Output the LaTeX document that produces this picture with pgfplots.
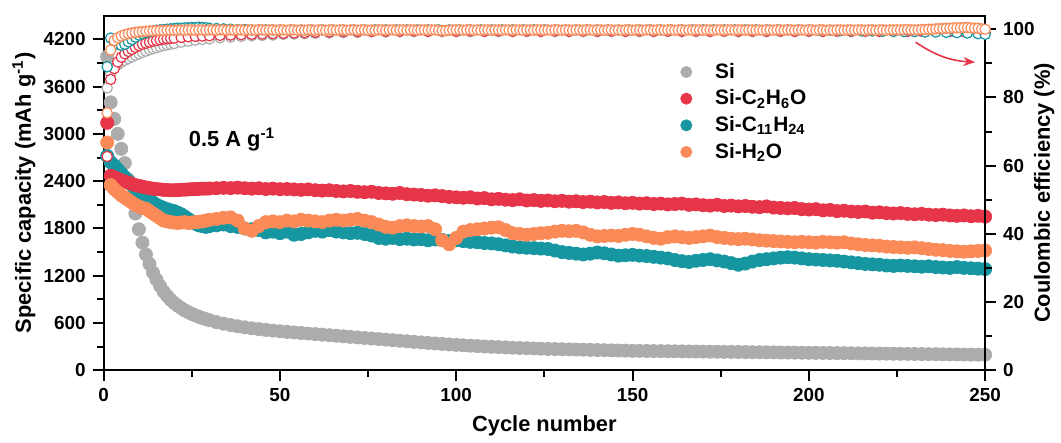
\documentclass[border=0pt]{standalone}
\usepackage{fontspec}
\setmainfont{Liberation Sans}
\usepackage{pgfplots}
\pgfplotsset{compat=1.18}
\usetikzlibrary{arrows.meta}

\definecolor{cSi}{RGB}{172,172,172}
\definecolor{cEt}{RGB}{230,52,72}
\definecolor{cUn}{RGB}{22,150,160}
\definecolor{cWa}{RGB}{250,138,88}

\pgfplotsset{
  common/.style={
    width=443.5pt, height=178.5pt, scale only axis,
    xmin=0, xmax=250,
    tick align=outside,
    major tick length=5.5pt, minor tick length=3.25pt,
    every tick/.style={black, line width=1pt},
    axis line style={line width=1pt},
    tick label style={font=\bfseries\fontsize{9.5}{11}\selectfont},
    /pgf/number format/assume math mode=true,
    /pgf/number format/1000 sep={},
    scaled ticks=false,
  },
  cap/.style={only marks, mark=*, mark size=3.3pt, mark options={draw=#1, fill=#1}, forget plot},
  ce/.style={only marks, mark=*, mark size=2.6pt, mark options={draw=#1, fill=white, line width=0.6pt}},
}

\begin{document}
\begin{tikzpicture}
\begin{axis}[common, name=ax,
  ymin=0, ymax=4500,
  ytick={0,600,...,4200}, minor y tick num=1,
  xtick={0,50,...,250}, minor x tick num=1,
  xtick pos=bottom, ytick pos=left,
  xlabel={Cycle number},
  ylabel={Specific capacity (mAh g\textsuperscript{-1})},
  every axis x label/.style={at={(axis description cs:0.5,-0.155)}, anchor=center, font=\bfseries\fontsize{11}{13}\selectfont},
  every axis y label/.style={at={(axis description cs:-0.0905,0.5)}, rotate=90, anchor=center, font=\bfseries\fontsize{11}{13}\selectfont},
  legend style={at={(axis description cs:0.647,0.89)}, anchor=north west, draw=none, fill=none,
    font=\bfseries\fontsize{10.5}{12}\selectfont, row sep=0.3pt},
  legend cell align=left,
  legend image code/.code={\draw[mark repeat=2,mark phase=2,#1] plot coordinates {(-8pt,0pt) (0pt,0pt) (8pt,0pt)}; \path[draw=none,fill=none] (-3pt,-0.1pt) rectangle (12.5pt,0.1pt);},
]
% Si
\addplot[cap=cSi] coordinates {
(1,3980)(2,3400)(3,3190)(4,3000)(5,2810)(6,2630)(7,2420)(8,2200)(9,1990)(10,1790)
(11,1620)(12,1470)(13,1350)(14,1240)(15,1150)(16,1070)(17,1000)(18,945)(19,895)(20,855)
(21,820)(22,790)(23,762)(24,738)(25,716)(26,697)(27,680)(28,664)(29,650)(30,636)
(32,612)(34,592)(36,575)(38,560)(40,546)(42,534)(44,523)(46,513)(48,504)(50,496)
(52,488)(54,481)(56,474)(58,467)(60,460)(62,453)(64,446)(66,439)(68,432)(70,425)
(72,418)(74,411)(76,404)(78,397)(80,390)(82,383)(84,376)(86,369)(88,362)(90,355)
(92,348)(94,341)(96,335)(98,329)(100,323)(102,318)(104,313)(106,308)(108,303)(110,299)
(112,295)(114,291)(116,287)(118,284)(120,281)(122,278)(124,275)(126,272)(128,270)(130,268)
(132,266)(134,264)(136,262)(138,260)(140,258)(142,256)(144,254)(146,252)(148,250)(150,248)
(152,247)(154,246)(156,245)(158,244)(160,243)(162,242)(164,241)(166,240)(168,239)(170,238)
(172,237)(174,236)(176,235)(178,234)(180,233)(182,232)(184,231)(186,230)(188,229)(190,228)
(192,227)(194,226)(196,225)(198,224)(200,223)(202,222)(204,221)(206,220)(208,219)(210,218)
(212,217)(214,216)(216,215)(218,214)(220,213)(222,212)(224,211)(226,210)(228,209)(230,208)
(232,207)(234,206)(236,205)(238,204)(240,203)(242,202)(244,201)(246,200)(248,199)(250,198)
};
% Si-C11H24
\addplot[cap=cUn] coordinates {
(1,2720)(2,2640)(3,2600)(4,2550)(5,2500)(6,2450)(7,2400)(8,2350)(9,2310)(10,2270)
(11,2230)(12,2190)(13,2160)(14,2130)(15,2100)(16,2080)(17,2060)(18,2045)(19,2030)(20,2020)
(21,2000)(22,1980)(23,1950)(24,1920)(25,1890)(26,1860)(27,1840)(28,1830)(29,1820)(30,1830)
(32,1840)(34,1850)(36,1830)(38,1820)(40,1800)(42,1790)(44,1780)(46,1750)(48,1760)(50,1740)
(52,1760)(54,1720)(56,1730)(58,1750)(60,1770)(62,1760)(64,1780)(66,1760)(68,1750)(70,1740)
(72,1745)(74,1730)(76,1710)(78,1680)(80,1670)(82,1680)(84,1665)(86,1670)(88,1660)(90,1665)
(92,1650)(94,1660)(96,1655)(98,1640)(100,1650)(102,1640)(104,1630)(106,1625)(108,1615)(110,1610)
(112,1600)(114,1585)(116,1570)(118,1560)(120,1555)(122,1550)(124,1545)(126,1540)(128,1520)(130,1500)
(132,1490)(134,1480)(136,1470)(138,1480)(140,1495)(142,1485)(144,1470)(146,1455)(148,1460)(150,1465)
(152,1455)(154,1450)(156,1440)(158,1430)(160,1420)(162,1400)(164,1385)(166,1375)(168,1390)(170,1400)
(172,1410)(174,1395)(176,1380)(178,1360)(180,1340)(182,1355)(184,1380)(186,1400)(188,1410)(190,1420)
(192,1430)(194,1435)(196,1430)(198,1420)(200,1410)(202,1405)(204,1400)(206,1395)(208,1390)(210,1380)
(212,1370)(214,1360)(216,1350)(218,1345)(220,1340)(222,1330)(224,1325)(226,1330)(228,1325)(230,1320)
(232,1315)(234,1320)(236,1310)(238,1305)(240,1300)(242,1310)(244,1300)(246,1295)(248,1290)(250,1285)
};
% Si-C2H6O
\addplot[cap=cEt] coordinates {
(1,3140)(2,2470)(3,2450)(4,2430)(5,2410)(6,2395)(7,2380)(8,2365)(9,2350)(10,2340)
(11,2330)(12,2320)(13,2312)(14,2305)(15,2300)(16,2295)(17,2290)(18,2288)(19,2285)(20,2285)
(21,2287)(22,2290)(23,2292)(24,2295)(25,2298)(26,2300)(27,2302)(28,2305)(29,2305)(30,2307)
(32,2310)(34,2315)(36,2312)(38,2318)(40,2310)(42,2305)(44,2310)(46,2300)(48,2305)(50,2298)
(52,2300)(54,2295)(56,2290)(58,2295)(60,2285)(62,2280)(64,2285)(66,2275)(68,2270)(70,2275)
(72,2265)(74,2260)(76,2265)(78,2250)(80,2245)(82,2240)(84,2250)(86,2235)(88,2230)(90,2225)
(92,2215)(94,2220)(96,2210)(98,2200)(100,2195)(102,2190)(104,2195)(106,2180)(108,2185)(110,2170)
(112,2175)(114,2165)(116,2160)(118,2170)(120,2155)(122,2160)(124,2150)(126,2155)(128,2145)(130,2150)
(132,2140)(134,2145)(136,2135)(138,2140)(140,2130)(142,2135)(144,2125)(146,2130)(148,2120)(150,2125)
(152,2115)(154,2120)(156,2110)(158,2115)(160,2105)(162,2110)(164,2115)(166,2100)(168,2105)(170,2095)
(172,2090)(174,2100)(176,2085)(178,2090)(180,2080)(182,2085)(184,2075)(186,2070)(188,2080)(190,2065)
(192,2060)(194,2055)(196,2060)(198,2045)(200,2040)(202,2045)(204,2030)(206,2035)(208,2020)(210,2025)
(212,2015)(214,2010)(216,2015)(218,2000)(220,2005)(222,1995)(224,1990)(226,1995)(228,1985)(230,1980)
(232,1985)(234,1975)(236,1970)(238,1975)(240,1965)(242,1960)(244,1965)(246,1955)(248,1960)(250,1950)
};
% Si-H2O
\addplot[cap=cWa] coordinates {
(1,2890)(2,2350)(3,2300)(4,2260)(5,2220)(6,2190)(7,2160)(8,2130)(9,2100)(10,2080)
(11,2060)(12,2050)(13,2020)(14,1990)(15,1960)(16,1930)(17,1900)(18,1890)(19,1880)(20,1875)
(21,1870)(22,1875)(23,1880)(24,1870)(25,1875)(26,1880)(27,1885)(28,1890)(29,1900)(30,1910)
(32,1920)(34,1935)(36,1940)(38,1900)(40,1800)(42,1770)(44,1830)(46,1880)(48,1890)(50,1880)
(52,1900)(54,1890)(56,1910)(58,1900)(60,1890)(62,1880)(64,1900)(66,1910)(68,1900)(70,1910)
(72,1920)(74,1900)(76,1880)(78,1850)(80,1820)(82,1810)(84,1830)(86,1840)(88,1830)(90,1825)
(92,1830)(94,1790)(96,1650)(98,1600)(100,1680)(102,1760)(104,1780)(106,1790)(108,1800)(110,1810)
(112,1815)(114,1780)(116,1740)(118,1730)(120,1720)(122,1730)(124,1740)(126,1745)(128,1760)(130,1770)
(132,1765)(134,1770)(136,1750)(138,1720)(140,1700)(142,1705)(144,1710)(146,1705)(148,1720)(150,1730)
(152,1720)(154,1700)(156,1680)(158,1670)(160,1690)(162,1700)(164,1690)(166,1680)(168,1690)(170,1700)
(172,1710)(174,1690)(176,1680)(178,1670)(180,1665)(182,1670)(184,1660)(186,1650)(188,1645)(190,1640)
(192,1635)(194,1630)(196,1625)(198,1630)(200,1625)(202,1620)(204,1630)(206,1625)(208,1620)(210,1625)
(212,1610)(214,1600)(216,1590)(218,1585)(220,1580)(222,1570)(224,1565)(226,1560)(228,1555)(230,1560)
(232,1550)(234,1540)(236,1530)(238,1525)(240,1515)(242,1510)(244,1505)(246,1510)(248,1515)(250,1520)
};
\addlegendimage{only marks, mark=*, mark size=2.8pt, mark options={draw=cSi, fill=cSi}}
\addlegendentry{Si}
\addlegendimage{only marks, mark=*, mark size=2.8pt, mark options={draw=cEt, fill=cEt}}
\addlegendentry{Si-C\textsubscript{2}H\textsubscript{6}O}
\addlegendimage{only marks, mark=*, mark size=2.8pt, mark options={draw=cUn, fill=cUn}}
\addlegendentry{Si-C\textsubscript{11}H\textsubscript{24}}
\addlegendimage{only marks, mark=*, mark size=2.8pt, mark options={draw=cWa, fill=cWa}}
\addlegendentry{Si-H\textsubscript{2}O}
\node[font=\bfseries\fontsize{11}{13}\selectfont] at (axis cs:36.4,2925) {0.5 A g\textsuperscript{-1}};
\draw[cEt, line width=0.8pt, -{Stealth[length=6pt,width=4.5pt]}] (axis cs:230.3,4161) to[bend right=15] (axis cs:247.2,3909);
\end{axis}

\begin{axis}[common,
  ymin=0, ymax=104,
  axis x line=none, axis y line*=right,
  ytick={0,20,...,100}, minor y tick num=1,
  ylabel={Coulombic efficiency (\%)},
  every axis y label/.style={at={(axis description cs:1.067,0.5)}, rotate=90, anchor=center, font=\bfseries\fontsize{11}{13}\selectfont},
]
% Si
\addplot[ce=cSi] coordinates {
(1,82.8)(2,87.0)(3,88.6)(4,89.6)(5,90.3)(6,90.9)(7,91.4)(8,91.9)(9,92.4)(10,92.8)
(11,93.2)(12,93.6)(13,94.0)(14,94.3)(15,94.6)(16,94.9)(17,95.2)(18,95.4)(19,95.6)(20,95.8)
(22,96.2)(24,96.5)(26,96.8)(28,97.0)(30,97.2)(33,97.5)(36,97.7)(39,97.9)(42,98.1)(45,98.2)
(48,98.3)(51,98.5)(54,98.6)(57,98.7)(60,98.8)(64,98.9)(68,99.0)(72,99.1)(76,99.2)(80,99.2)
(84,99.3)(88,99.3)(92,99.3)(96,99.3)(100,99.3)(104,99.3)(108,99.3)(112,99.3)(116,99.3)(120,99.3)
(124,99.3)(128,99.3)(132,99.3)(136,99.3)(140,99.3)(144,99.3)(148,99.3)(152,99.3)(156,99.3)(160,99.3)
(164,99.3)(168,99.3)(172,99.3)(176,99.3)(180,99.3)(184,99.3)(188,99.3)(192,99.3)(196,99.3)(200,99.3)
(204,99.3)(208,99.3)(212,99.3)(216,99.3)(220,99.3)(224,99.3)(228,99.3)(232,99.3)(236,99.3)(240,99.3)
(244,99.3)(248,99.3)
};
% Si-C2H6O
\addplot[ce=cEt] coordinates {
(1,62.7)(2,85.3)(3,88.5)(4,90.4)(5,91.8)(6,92.8)(7,93.5)(8,94.1)(9,94.7)(10,95.2)
(11,95.6)(12,95.9)(13,96.2)(14,96.5)(15,96.7)(16,96.9)(17,97.1)(18,97.2)(19,97.3)(20,97.4)
(22,97.6)(24,97.8)(26,97.9)(28,98.0)(30,98.1)(33,98.2)(36,98.3)(39,98.4)(42,98.5)(45,98.6)
(48,98.7)(51,98.8)(54,98.9)(57,99.0)(60,99.1)(64,99.2)(68,99.3)(72,99.3)(76,99.4)(80,99.4)
(84,99.4)(88,99.5)(92,99.4)(96,99.5)(100,99.4)(104,99.5)(108,99.4)(112,99.5)(116,99.4)(120,99.5)
(124,99.4)(128,99.5)(132,99.4)(136,99.5)(140,99.4)(144,99.5)(148,99.4)(152,99.5)(156,99.4)(160,99.5)
(164,99.4)(168,99.5)(172,99.4)(176,99.5)(180,99.4)(184,99.5)(188,99.4)(192,99.5)(196,99.4)(200,99.5)
(204,99.4)(208,99.5)(212,99.4)(216,99.5)(220,99.4)(224,99.5)(228,99.4)(232,99.5)(236,99.4)(240,99.4)
(244,99.3)(248,99.2)(250,99.0)
};
% Si-C11H24
\addplot[ce=cUn] coordinates {
(1,89.0)(2,97.4)(3,96.3)(4,95.6)(5,95.3)(6,95.6)(7,96.3)(8,97.0)(9,97.7)(10,98.3)
(11,98.7)(12,99.0)(13,99.3)(14,99.5)(15,99.7)(16,99.8)(17,99.9)(18,100.0)(19,100.1)(20,100.2)
(21,100.3)(22,100.3)(23,100.4)(24,100.4)(25,100.5)(26,100.5)(27,100.6)(28,100.5)(29,100.4)(30,100.3)
(32,100.2)(34,100.1)(36,100.0)(38,99.9)(40,99.9)(42,99.8)(44,99.8)(46,99.8)(48,99.8)(50,99.8)
(53,99.8)(56,99.8)(59,99.8)(62,99.8)(65,99.8)(68,99.8)(71,99.8)(74,99.8)(77,99.8)(80,99.8)
(83,99.8)(86,99.8)(89,99.8)(92,99.8)(95,99.8)(98,99.8)(101,99.8)(104,99.8)(107,99.8)(110,99.8)
(113,99.8)(116,99.8)(119,99.8)(122,99.8)(125,99.8)(128,99.8)(131,99.8)(134,99.8)(137,99.8)(140,99.8)
(143,99.8)(146,99.8)(149,99.8)(152,99.8)(155,99.8)(158,99.8)(161,99.8)(164,99.8)(167,99.8)(170,99.8)
(173,99.8)(176,99.8)(179,99.8)(182,99.8)(185,99.8)(188,99.8)(191,99.8)(194,99.8)(197,99.8)(200,99.8)
(203,99.7)(206,99.7)(209,99.6)(212,99.6)(215,99.5)(218,99.5)(221,99.4)(224,99.4)(227,99.3)(230,99.3)
(233,99.2)(236,99.2)(239,99.1)(242,99.0)(245,98.9)(248,98.7)(250,98.5)
};
% Si-H2O
\addplot[ce=cWa] coordinates {
(1,75.5)(2,93.9)(3,96.7)(4,97.5)(5,98.0)(6,98.4)(7,98.7)(8,98.9)(9,99.1)(10,99.2)
(11,99.3)(12,99.4)(13,99.5)(14,99.5)(15,99.6)(16,99.6)(17,99.6)(18,99.7)(19,99.7)(20,99.7)
(21,99.7)(22,99.8)(23,99.7)(24,99.8)(25,99.8)(26,99.7)(27,99.8)(28,99.8)(29,99.7)(30,99.8)
(31,99.8)(32,99.7)(33,99.8)(34,99.8)(35,99.7)(36,99.8)(37,99.7)(38,99.8)(39,99.8)(40,99.7)
(41,99.8)(42,99.8)(43,99.7)(44,99.8)(45,99.8)(46,99.7)(47,99.8)(48,99.8)(49,99.7)(50,99.8)
(51,99.8)(52,99.7)(53,99.8)(54,99.8)(55,99.7)(56,99.8)(57,99.7)(58,99.8)(59,99.8)(60,99.7)
(61,99.8)(62,99.8)(63,99.7)(64,99.8)(65,99.8)(66,99.7)(67,99.8)(68,99.8)(69,99.7)(70,99.8)
(71,99.8)(72,99.7)(73,99.8)(74,99.8)(75,99.7)(76,99.8)(77,99.7)(78,99.8)(79,99.8)(80,99.7)
(81,99.8)(82,99.8)(83,99.7)(84,99.8)(85,99.8)(86,99.7)(87,99.8)(88,99.8)(89,99.7)(90,99.8)
(91,99.8)(92,99.7)(93,99.8)(94,99.8)(95,99.7)(96,99.6)(97,99.6)(98,99.7)(99,99.8)(100,99.8)
(101,99.8)(102,99.7)(103,99.8)(104,99.8)(105,99.7)(106,99.8)(107,99.7)(108,99.8)(109,99.8)(110,99.7)
(111,99.8)(112,99.8)(113,99.7)(114,99.8)(115,99.8)(116,99.7)(117,99.8)(118,99.8)(119,99.7)(120,99.8)
(121,99.8)(122,99.7)(123,99.8)(124,99.8)(125,99.7)(126,99.8)(127,99.7)(128,99.8)(129,99.8)(130,99.7)
(131,99.8)(132,99.8)(133,99.7)(134,99.8)(135,99.8)(136,99.7)(137,99.8)(138,99.8)(139,99.7)(140,99.8)
(141,99.8)(142,99.7)(143,99.8)(144,99.8)(145,99.7)(146,99.8)(147,99.7)(148,99.8)(149,99.8)(150,99.7)
(151,99.8)(152,99.8)(153,99.7)(154,99.8)(155,99.8)(156,99.7)(157,99.8)(158,99.8)(159,99.7)(160,99.8)
(161,99.8)(162,99.7)(163,99.8)(164,99.8)(165,99.7)(166,99.8)(167,99.7)(168,99.8)(169,99.8)(170,99.7)
(171,99.8)(172,99.8)(173,99.7)(174,99.8)(175,99.8)(176,99.7)(177,99.8)(178,99.8)(179,99.7)(180,99.8)
(181,99.8)(182,99.7)(183,99.8)(184,99.8)(185,99.7)(186,99.8)(187,99.7)(188,99.8)(189,99.8)(190,99.7)
(191,99.8)(192,99.8)(193,99.7)(194,99.8)(195,99.8)(196,99.7)(197,99.8)(198,99.8)(199,99.7)(200,99.8)
(201,99.8)(202,99.7)(203,99.8)(204,99.8)(205,99.7)(206,99.8)(207,99.7)(208,99.8)(209,99.8)(210,99.7)
(211,99.8)(212,99.8)(213,99.7)(214,99.8)(215,99.8)(216,99.7)(217,99.8)(218,99.8)(219,99.7)(220,99.8)
(221,99.8)(222,99.7)(223,99.8)(224,99.8)(225,99.8)(226,99.8)(227,99.8)(228,99.9)(229,99.8)(230,99.8)
(231,99.8)(232,99.9)(233,99.9)(234,100.0)(235,100.0)(236,100.1)(237,100.2)(238,100.2)(239,100.3)(240,100.3)
(241,100.4)(242,100.4)(243,100.4)(244,100.5)(245,100.5)(246,100.4)(247,100.3)(248,100.3)(249,100.1)(250,100.0)
};
\end{axis}
\path ([shift={(-52.15pt,-33.15pt)}]ax.south west) rectangle ([shift={(34.85pt,7.85pt)}]ax.north east);
\end{tikzpicture}
\end{document}
